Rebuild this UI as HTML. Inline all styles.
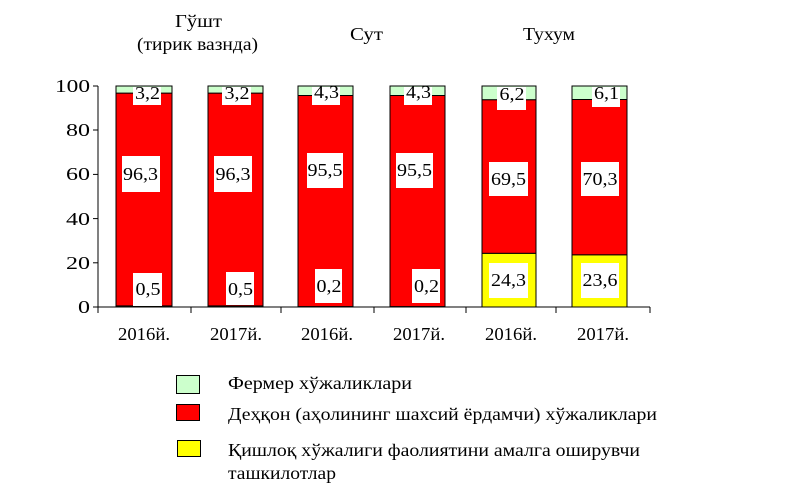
<!DOCTYPE html>
<html><head><meta charset="utf-8"><style>
html,body{margin:0;padding:0;background:#fff;}
svg{display:block;font-family:"Liberation Serif",serif;}
</style></head><body>
<svg width="787" height="501" viewBox="0 0 787 501" xmlns="http://www.w3.org/2000/svg">
<g font-size="18" fill="#000">
<text x="175" y="27" textLength="47" lengthAdjust="spacingAndGlyphs">Гўшт</text>
<text x="137" y="50" textLength="121" lengthAdjust="spacingAndGlyphs">(тирик вазнда)</text>
<text x="350" y="40" textLength="33" lengthAdjust="spacingAndGlyphs">Сут</text>
<text x="523" y="40" textLength="52" lengthAdjust="spacingAndGlyphs">Тухум</text>
</g>
<g stroke="#000" stroke-width="1">
<line x1="98" y1="86" x2="98" y2="307"/>
<line x1="93" y1="86" x2="98" y2="86"/>
<line x1="93" y1="130" x2="98" y2="130"/>
<line x1="93" y1="174.4" x2="98" y2="174.4"/>
<line x1="93" y1="218.6" x2="98" y2="218.6"/>
<line x1="93" y1="262.8" x2="98" y2="262.8"/>
<line x1="93" y1="307" x2="650" y2="307"/>
<line x1="98" y1="307" x2="98" y2="313"/>
<line x1="191" y1="307" x2="191" y2="313"/>
<line x1="281" y1="307" x2="281" y2="313"/>
<line x1="374" y1="307" x2="374" y2="313"/>
<line x1="466" y1="307" x2="466" y2="313"/>
<line x1="556" y1="307" x2="556" y2="313"/>
<line x1="650" y1="307" x2="650" y2="313"/>
</g>
<g font-size="18">
<text x="55" y="92" textLength="35" lengthAdjust="spacingAndGlyphs">100</text>
<text x="66" y="136" textLength="24" lengthAdjust="spacingAndGlyphs">80</text>
<text x="66" y="180" textLength="24" lengthAdjust="spacingAndGlyphs">60</text>
<text x="66" y="225" textLength="24" lengthAdjust="spacingAndGlyphs">40</text>
<text x="66" y="269" textLength="24" lengthAdjust="spacingAndGlyphs">20</text>
<text x="78" y="313" textLength="12" lengthAdjust="spacingAndGlyphs">0</text>
</g>
<g stroke="#000" stroke-width="1">
<rect x="116" y="305.9" width="56" height="1.1" fill="#ffff00"/>
<rect x="116" y="93.1" width="56" height="212.8" fill="#ff0000"/>
<rect x="116" y="86" width="56" height="7.1" fill="#ccffcc"/>
<rect x="208" y="305.9" width="55" height="1.1" fill="#ffff00"/>
<rect x="208" y="93.1" width="55" height="212.8" fill="#ff0000"/>
<rect x="208" y="86" width="55" height="7.1" fill="#ccffcc"/>
<rect x="298" y="306.6" width="55" height="0.4" fill="#ffff00"/>
<rect x="298" y="95.5" width="55" height="211.1" fill="#ff0000"/>
<rect x="298" y="86" width="55" height="9.5" fill="#ccffcc"/>
<rect x="390" y="306.6" width="55" height="0.4" fill="#ffff00"/>
<rect x="390" y="95.5" width="55" height="211.1" fill="#ff0000"/>
<rect x="390" y="86" width="55" height="9.5" fill="#ccffcc"/>
<rect x="482" y="253.3" width="54" height="53.7" fill="#ffff00"/>
<rect x="482" y="99.7" width="54" height="153.6" fill="#ff0000"/>
<rect x="482" y="86" width="54" height="13.7" fill="#ccffcc"/>
<rect x="572" y="254.8" width="55" height="52.2" fill="#ffff00"/>
<rect x="572" y="99.5" width="55" height="155.3" fill="#ff0000"/>
<rect x="572" y="86" width="55" height="13.5" fill="#ccffcc"/>
</g>
<g fill="#fff">
<rect x="133" y="87" width="28" height="18"/>
<rect x="122" y="156" width="38" height="36"/>
<rect x="133" y="273" width="29" height="33"/>
<rect x="222" y="87" width="29" height="18"/>
<rect x="214" y="156" width="38" height="36"/>
<rect x="226" y="272" width="28" height="33"/>
<rect x="312" y="87" width="28" height="18"/>
<rect x="307" y="153" width="36" height="35"/>
<rect x="315" y="269" width="27" height="34"/>
<rect x="404" y="87" width="28" height="18"/>
<rect x="396" y="153" width="37" height="35"/>
<rect x="412" y="269" width="28" height="34"/>
<rect x="497" y="87" width="29" height="23"/>
<rect x="489" y="162" width="39" height="34"/>
<rect x="489" y="263" width="39" height="35"/>
<rect x="592" y="87" width="28" height="20"/>
<rect x="581" y="162" width="38" height="34"/>
<rect x="581" y="263" width="38" height="35"/>
</g>
<g font-size="18">
<text x="135" y="99" textLength="25" lengthAdjust="spacingAndGlyphs">3,2</text>
<text x="123" y="180" textLength="35" lengthAdjust="spacingAndGlyphs">96,3</text>
<text x="135.5" y="295" textLength="25" lengthAdjust="spacingAndGlyphs">0,5</text>
<text x="224.5" y="99" textLength="25" lengthAdjust="spacingAndGlyphs">3,2</text>
<text x="215.5" y="180" textLength="35" lengthAdjust="spacingAndGlyphs">96,3</text>
<text x="228" y="295" textLength="25" lengthAdjust="spacingAndGlyphs">0,5</text>
<text x="314" y="98" textLength="25" lengthAdjust="spacingAndGlyphs">4,3</text>
<text x="307.5" y="176" textLength="35" lengthAdjust="spacingAndGlyphs">95,5</text>
<text x="316.5" y="292" textLength="25" lengthAdjust="spacingAndGlyphs">0,2</text>
<text x="406" y="98" textLength="25" lengthAdjust="spacingAndGlyphs">4,3</text>
<text x="397" y="176" textLength="35" lengthAdjust="spacingAndGlyphs">95,5</text>
<text x="414" y="292" textLength="25" lengthAdjust="spacingAndGlyphs">0,2</text>
<text x="499.5" y="100" textLength="25" lengthAdjust="spacingAndGlyphs">6,2</text>
<text x="491" y="185" textLength="35" lengthAdjust="spacingAndGlyphs">69,5</text>
<text x="491" y="286" textLength="35" lengthAdjust="spacingAndGlyphs">24,3</text>
<text x="594" y="99" textLength="25" lengthAdjust="spacingAndGlyphs">6,1</text>
<text x="582.5" y="185" textLength="35" lengthAdjust="spacingAndGlyphs">70,3</text>
<text x="582.5" y="286" textLength="35" lengthAdjust="spacingAndGlyphs">23,6</text>
</g>
<g font-size="18">
<text x="118" y="340" textLength="52" lengthAdjust="spacingAndGlyphs">2016й.</text>
<text x="210" y="340" textLength="52" lengthAdjust="spacingAndGlyphs">2017й.</text>
<text x="301" y="340" textLength="52" lengthAdjust="spacingAndGlyphs">2016й.</text>
<text x="393" y="340" textLength="52" lengthAdjust="spacingAndGlyphs">2017й.</text>
<text x="485" y="340" textLength="52" lengthAdjust="spacingAndGlyphs">2016й.</text>
<text x="577" y="340" textLength="52" lengthAdjust="spacingAndGlyphs">2017й.</text>
</g>
<g stroke="#000" stroke-width="1">
<rect x="176.5" y="375.5" width="23" height="18" fill="#ccffcc"/>
<rect x="176.5" y="404.5" width="23" height="16" fill="#ff0000"/>
<rect x="177.5" y="440.5" width="23" height="16" fill="#ffff00"/>
</g>
<g font-size="18">
<text x="228" y="389" textLength="184" lengthAdjust="spacingAndGlyphs">Фермер хўжаликлари</text>
<text x="228" y="420" textLength="429" lengthAdjust="spacingAndGlyphs">Деҳқон (аҳолининг шахсий ёрдамчи) хўжаликлари</text>
<text x="228" y="456" textLength="412" lengthAdjust="spacingAndGlyphs">Қишлоқ хўжалиги фаолиятини амалга оширувчи</text>
<text x="228" y="479" textLength="108" lengthAdjust="spacingAndGlyphs">ташкилотлар</text>
</g>
</svg>
</body></html>
